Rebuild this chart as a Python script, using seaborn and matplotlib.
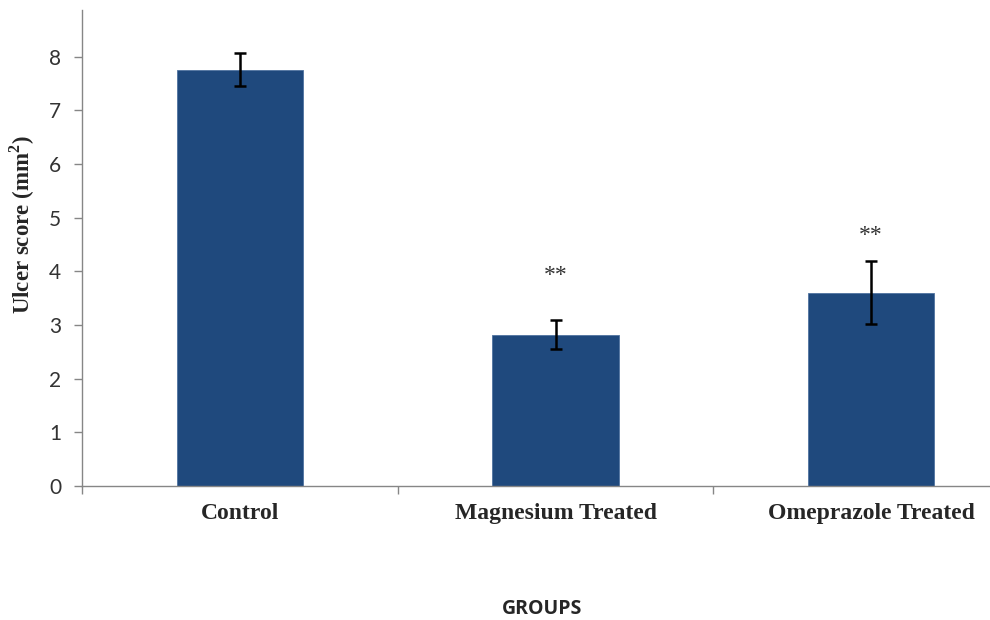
import numpy as np
import pandas as pd
import matplotlib
matplotlib.use('Agg')
import matplotlib.pyplot as plt
import seaborn as sns

groups = ['Control', 'Magnesium Treated', 'Omeprazole Treated']
ulcer_score = [7.76, 2.82, 3.60]
sem = [0.31, 0.27, 0.59]
stars = ['', '**', '**']
star_y = [0, 3.93, 4.67]

df = pd.DataFrame({'group': groups, 'score': ulcer_score})

sns.set_style('white')
fig = plt.figure(figsize=(9.9, 6.2), dpi=100)
ax = fig.add_axes([82 / 990, 134 / 620, 947 / 990, 476 / 620])

sns.barplot(x='group', y='score', data=df, color='#1F497D', saturation=1,
            width=0.4, errorbar=None, edgecolor='#4F73A0', linewidth=0.6, ax=ax)
ax.errorbar(x=np.arange(len(groups)), y=ulcer_score, yerr=sem, fmt='none',
            ecolor='black', elinewidth=1.8, capsize=4, capthick=1.8)

# significance marks
for i, s in enumerate(stars):
    if s:
        ax.text(i, star_y[i], s, ha='center', va='center', fontsize=17,
                color='#333333', family='Liberation Serif')

ax.set_ylim(0, 8.87)
ax.set_xlim(-0.5, 2.5)
ax.set_yticks(range(0, 9))

for side in ['top', 'right']:
    ax.spines[side].set_visible(False)
for side in ['left', 'bottom']:
    ax.spines[side].set_color('#868686')
    ax.spines[side].set_linewidth(1)

ax.tick_params(axis='y', length=6, width=1, color='#868686', pad=9,
               labelsize=15, labelcolor='#333333', left=True)
for lab in ax.get_yticklabels():
    lab.set_family(['Lato', 'DejaVu Sans'])

ax.tick_params(axis='x', which='major', length=0, pad=12)
ax.set_xticks([-0.5, 0.5, 1.5, 2.5], minor=True)
ax.tick_params(axis='x', which='minor', length=6, width=1, color='#868686', bottom=True)
ax.set_xticklabels(groups, fontsize=17, fontweight='bold', family='Liberation Serif')

ax.set_ylabel('Ulcer score (mm$^\\mathregular{2}$)', fontsize=16.5, fontweight='bold',
              family='Liberation Serif')
ax.yaxis.set_label_coords(-0.047, 0.55)
ax.set_xlabel('GROUPS', fontsize=14, fontweight='bold', family='Open Sans')
ax.xaxis.set_label_coords(0.486, -0.237)

fig.savefig('out.png', dpi=100)
